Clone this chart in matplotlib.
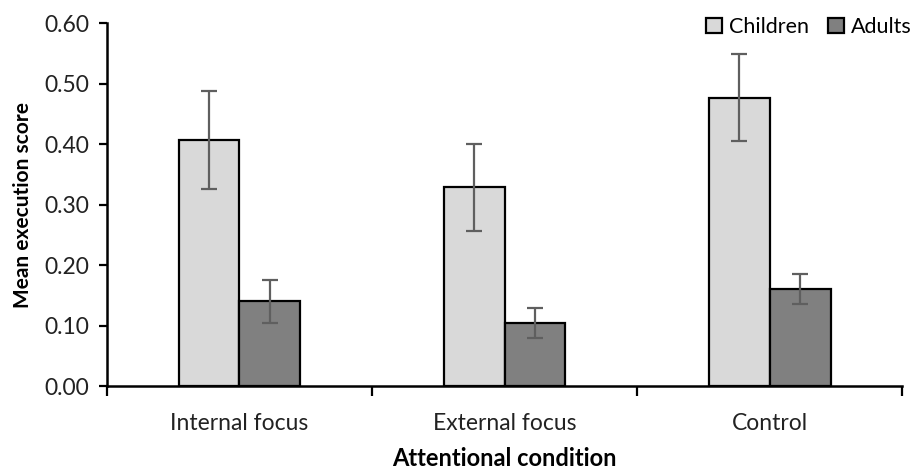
import matplotlib.pyplot as plt
import numpy as np

conditions = ['Internal focus', 'External focus', 'Control']
children = [0.407, 0.329, 0.477]
children_err = [0.081, 0.072, 0.072]
adults = [0.140, 0.104, 0.161]
adults_err = [0.036, 0.025, 0.025]
yticks = [0.0, 0.1, 0.2, 0.3, 0.4, 0.5, 0.6]

plt.rcParams['font.family'] = ['Lato', 'DejaVu Sans']

fig = plt.figure(figsize=(9.14, 4.71), dpi=100)
ax = fig.add_axes([0.117, 0.18, 0.87, 0.771])

x = np.arange(len(conditions))
w = 0.23
err_kw = dict(ecolor='#5f5f5f', elinewidth=1.6, capsize=6, capthick=1.6)
ax.bar(x - w / 2, children, w, yerr=children_err, color='#d9d9d9',
       edgecolor='black', linewidth=1.6, label='Children', error_kw=err_kw)
ax.bar(x + w / 2, adults, w, yerr=adults_err, color='#808080',
       edgecolor='black', linewidth=1.6, label='Adults', error_kw=err_kw)

ax.set_xlim(-0.5, len(conditions) - 0.5)
ax.set_ylim(0, 0.6)
ax.set_yticks(yticks)
ax.set_yticklabels(['{:.2f}'.format(v) for v in yticks])

# category labels centred, tick marks on group boundaries
ax.set_xticks(x)
ax.set_xticklabels(conditions)
ax.tick_params(axis='x', which='major', length=0, pad=19)
ax.set_xticks(np.arange(len(conditions) + 1) - 0.5, minor=True)
ax.tick_params(axis='x', which='minor', length=7, width=1.6, direction='out')
ax.tick_params(axis='y', length=6, width=1.6, direction='out', pad=7)
ax.tick_params(labelsize=16.5, labelcolor='#222222')

for s in ['top', 'right']:
    ax.spines[s].set_visible(False)
for s in ['left', 'bottom']:
    ax.spines[s].set_linewidth(1.8)

ax.set_ylabel('Mean execution score', fontsize=15, fontweight='bold', labelpad=8)
ax.set_xlabel('Attentional condition', fontsize=17, fontweight='bold', labelpad=10)

ax.legend(loc='center right', bbox_to_anchor=(1.012, 0.989), ncol=2, frameon=False,
          fontsize=15.5, handlelength=0.75, handleheight=0.75, handletextpad=0.3,
          columnspacing=0.9, borderaxespad=0, borderpad=0)

fig.savefig('out.png', dpi=100)
